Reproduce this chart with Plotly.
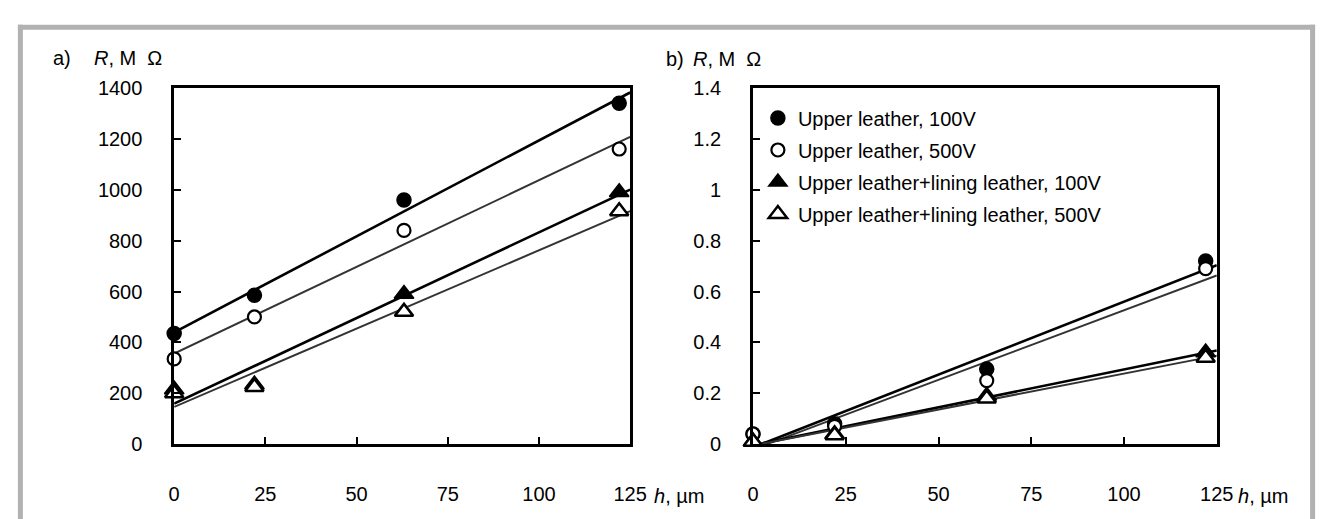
import numpy as np
import plotly.graph_objects as go

W, H = 1328, 519

# ---------------- data ----------------
h_um = [0, 22, 63, 122]
series_names = [
    "Upper leather, 100V",
    "Upper leather, 500V",
    "Upper leather+lining leather, 100V",
    "Upper leather+lining leather, 500V",
]
# panel a) R, MOhm
a_upper_100 = [435, 585, 960, 1340]
a_upper_500 = [335, 500, 840, 1160]
a_lining_100 = [215, 235, 590, 990]
a_lining_500 = [200, 225, 520, 915]
# panel b) R, MOhm
b_upper_100 = [0.04, 0.08, 0.295, 0.72]
b_upper_500 = [0.04, 0.07, 0.25, 0.69]
b_lining_100 = [0.01, 0.04, 0.19, 0.36]
b_lining_500 = [0.01, 0.035, 0.18, 0.34]

x_ticks = [0, 25, 50, 75, 100, 125]
a_y_ticks = [0, 200, 400, 600, 800, 1000, 1200, 1400]
b_y_ticks = [0, 0.2, 0.4, 0.6, 0.8, 1.0, 1.2, 1.4]

# ---------------- styles ----------------
marker_styles = [
    dict(symbol="circle", size=14, color="black", line=dict(color="black", width=1.5)),
    dict(symbol="circle", size=13, color="white", line=dict(color="black", width=2.2)),
    dict(symbol="triangle-up", size=17, color="black", line=dict(color="black", width=1.5)),
    dict(symbol="triangle-up", size=16, color="white", line=dict(color="black", width=2.5)),
]
line_styles = [
    dict(color="black", width=2.6),
    dict(color="#333333", width=2.0),
    dict(color="black", width=2.6),
    dict(color="#333333", width=2.0),
]

FONT = "Liberation Sans, Arial, sans-serif"

fig = go.Figure()

panels = [
    ("x", "y", [a_upper_100, a_upper_500, a_lining_100, a_lining_500], False),
    ("x2", "y2", [b_upper_100, b_upper_500, b_lining_100, b_lining_500], True),
]

xfit = np.array([0.0, 125.0])
# linear trend lines first
for xa, ya, data, _ in panels:
    for i, ys in enumerate(data):
        k, b = np.polyfit(h_um, ys, 1)
        fig.add_trace(go.Scatter(
            x=xfit, y=k * xfit + b, mode="lines", line=line_styles[i],
            xaxis=xa, yaxis=ya, showlegend=False, hoverinfo="skip",
        ))
# markers on top
for xa, ya, data, legend in panels:
    for i, ys in enumerate(data):
        fig.add_trace(go.Scatter(
            x=h_um, y=ys, mode="markers", marker=marker_styles[i],
            name=series_names[i], legendgroup=f"g{i}",
            xaxis=xa, yaxis=ya, showlegend=legend, cliponaxis=False,
        ))

axis_common = dict(
    showline=True, linecolor="black", linewidth=2.6, mirror=True,
    ticks="inside", ticklen=7, tickwidth=2.2, tickcolor="black",
    showgrid=False, zeroline=False,
    tickfont=dict(family=FONT, size=20, color="black"),
)

ybot, ytop = 1 - 444 / H, 1 - 72 / H
fig.update_layout(
    width=W, height=H,
    margin=dict(l=0, r=0, t=0, b=0),
    paper_bgcolor="white", plot_bgcolor="white",
    font=dict(family=FONT, size=20, color="black"),
    xaxis=dict(domain=[163 / W, 627 / W], range=[0, 125], tickvals=x_ticks,
               ticklabelstandoff=30, anchor="y", **axis_common),
    yaxis=dict(domain=[ybot, ytop], range=[0, 1400], tickvals=a_y_ticks,
               ticklabelstandoff=25, anchor="x", **axis_common),
    xaxis2=dict(domain=[752 / W, 1224 / W], range=[0, 125], tickvals=x_ticks,
                ticklabelstandoff=30, anchor="y2", **axis_common),
    yaxis2=dict(domain=[ybot, ytop], range=[0, 1.4], tickvals=b_y_ticks,
                ticklabelstandoff=25, anchor="x2", **axis_common),
    legend=dict(x=757 / W, y=1 - 83 / H, xanchor="left", yanchor="top",
                bgcolor="rgba(0,0,0,0)", tracegroupgap=3,
                font=dict(family=FONT, size=20, color="black")),
    showlegend=True,
)

ann = []
def txt(s, xpx, ypx, anchor="left"):
    ann.append(dict(text=s, x=xpx / W, y=1 - ypx / H, xref="paper", yref="paper",
                    xanchor=anchor, yanchor="middle", showarrow=False,
                    font=dict(family=FONT, size=20, color="black")))

txt("a)", 38, 41)
txt("<i>R</i>, M  Ω", 79, 41)
txt("b)", 661, 42)
txt("<i>R</i>, M  Ω", 689, 42)
txt("<i>h</i>, µm", 649, 498)
txt("<i>h</i>, µm", 1244, 498)
fig.update_layout(annotations=ann)

# grey frame (open at the bottom)
frame = dict(color="#b2b2b2", width=5)
fig.update_layout(shapes=[
    dict(type="line", xref="paper", yref="paper", x0=6.5 / W, x1=6.5 / W,
         y0=-0.05, y1=1 - 6 / H, line=frame),
    dict(type="line", xref="paper", yref="paper", x0=4 / W, x1=1324 / W,
         y0=1 - 8.5 / H, y1=1 - 8.5 / H, line=frame),
    dict(type="line", xref="paper", yref="paper", x0=1321.5 / W, x1=1321.5 / W,
         y0=-0.05, y1=1 - 6 / H, line=frame),
])

fig.write_html("out.html")
